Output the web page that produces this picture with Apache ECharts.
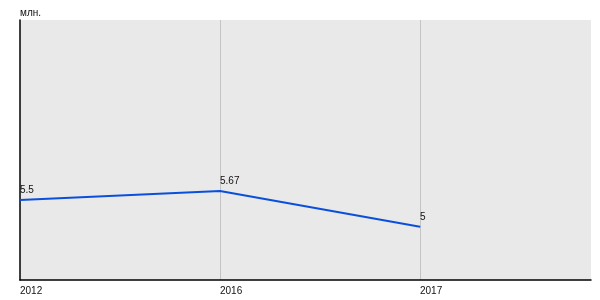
<!DOCTYPE html>
<html><head><meta charset="utf-8">
<script src="https://cdn.jsdelivr.net/npm/echarts@6/dist/echarts.min.js"></script>
<style>html,body{margin:0;padding:0;background:#fff}#c{width:600px;height:300px}</style>
</head><body><div id="c"></div>
<script>
const years = ['2012', '2016', '2017'];
const values = [5.5, 5.67, 5];
const unitLabel = 'млн.';

const points = values.map((v, i) => [i, v]);
const chart = echarts.init(document.getElementById('c'), null, {renderer: 'canvas'});
chart.setOption({
  animation: false,
  title: {text: unitLabel, left: 20, top: 8, padding: 0, textStyle: {fontSize: 10, fontWeight: 'normal', color: '#111', fontFamily: 'Liberation Sans, Arial, sans-serif'}},
  grid: {left: 20, right: 9, top: 20, bottom: 20, show: true, backgroundColor: '#e9e9e9', borderWidth: 0},
  xAxis: {
    type: 'value', min: 0, max: 2.855, interval: 1,
    axisLine: {show: true, lineStyle: {color: '#000', width: 1.5}},
    axisTick: {show: false},
    axisLabel: {
      align: 'left', margin: 6, fontSize: 10, color: '#111', fontFamily: 'Liberation Sans, Arial, sans-serif',
      showMaxLabel: false,
      formatter: v => (Number.isInteger(v) && years[v] !== undefined) ? years[v] : ''
    },
    splitLine: {show: true, showMaxLine: false, showMinLine: false, lineStyle: {color: '#c4c4c4', width: 1}}
  },
  yAxis: {
    type: 'value', min: 4, max: 8.875,
    axisLine: {show: true, onZero: false, lineStyle: {color: '#000', width: 1.5}},
    axisTick: {show: false}, axisLabel: {show: false}, splitLine: {show: false}
  },
  series: [{
    type: 'line',
    data: points,
    symbol: 'none',
    lineStyle: {color: '#0a4fdc', width: 2}
  }, {
    type: 'scatter',
    data: points,
    symbolSize: 1,
    clip: false,
    itemStyle: {color: '#0a4fdc', opacity: 1},
    label: {show: true, position: 'top', align: 'left', distance: 4, fontSize: 10, color: '#111', fontFamily: 'Liberation Sans, Arial, sans-serif',
      formatter: p => String(p.value[1])},
    labelLayout: {hideOverlap: false}
  }]
});
</script></body></html>
